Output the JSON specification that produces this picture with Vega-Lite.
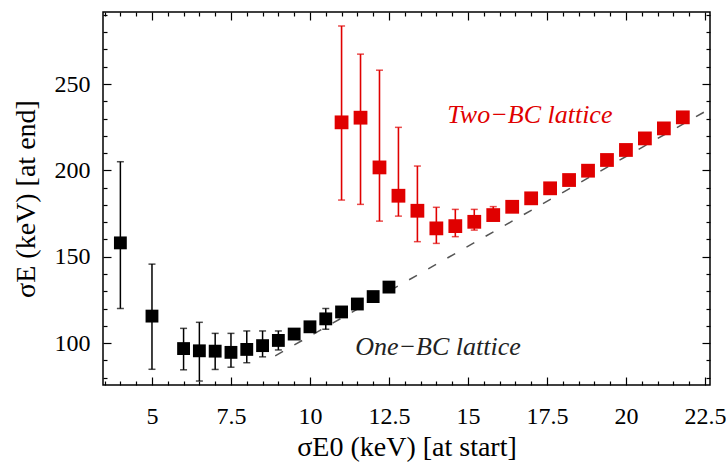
{
  "$schema": "https://vega.github.io/schema/vega-lite/v6.json",
  "width": 607,
  "height": 373,
  "autosize": {"type": "none"},
  "padding": {"left": 103, "top": 12, "right": 16, "bottom": 77},
  "background": "white",
  "config": {
    "view": {"stroke": "black", "strokeWidth": 1.5},
    "font": "Liberation Serif",
    "axis": {"grid": false, "domain": false, "labelFont": "Liberation Serif", "titleFont": "Liberation Serif", "labelColor": "black", "titleColor": "black", "tickColor": "black", "titleFontWeight": "normal", "labelFontSize": 24, "titleFontSize": 28}
  },
  "datasets": {
    "black": [
      {"x": 4, "y": 158, "lo": 120, "hi": 205},
      {"x": 5, "y": 115.6, "lo": 84.8, "hi": 145.7},
      {"x": 6, "y": 96.8, "lo": 84.5, "hi": 108.5},
      {"x": 6.5, "y": 95.5, "lo": 78, "hi": 112},
      {"x": 7, "y": 95.3, "lo": 84.7, "hi": 105.6},
      {"x": 7.5, "y": 94.6, "lo": 86, "hi": 105.6},
      {"x": 8, "y": 96.3, "lo": 88.6, "hi": 107},
      {"x": 8.5, "y": 98.5, "lo": 92, "hi": 107},
      {"x": 9, "y": 101.5, "lo": 96, "hi": 107},
      {"x": 9.5, "y": 105.2},
      {"x": 10, "y": 109.4},
      {"x": 10.5, "y": 114, "lo": 108, "hi": 120},
      {"x": 11, "y": 118},
      {"x": 11.5, "y": 122.6},
      {"x": 12, "y": 126.9},
      {"x": 12.5, "y": 132.4}
    ],
    "red": [
      {"x": 11, "y": 227.8, "lo": 182.8, "hi": 283.6},
      {"x": 11.6, "y": 230.5, "lo": 180.3, "hi": 267.3},
      {"x": 12.2, "y": 201.7, "lo": 170.6, "hi": 258},
      {"x": 12.8, "y": 185.3, "lo": 173.5, "hi": 224.9},
      {"x": 13.4, "y": 176.6, "lo": 158.7, "hi": 202.5},
      {"x": 14.0, "y": 166.4, "lo": 157.7, "hi": 178.6},
      {"x": 14.6, "y": 167.7, "lo": 161.6, "hi": 177.4},
      {"x": 15.2, "y": 170.2, "lo": 165.4, "hi": 177.4},
      {"x": 15.8, "y": 174.1, "lo": 171, "hi": 179},
      {"x": 16.4, "y": 178.9},
      {"x": 17.0, "y": 183.8},
      {"x": 17.6, "y": 189.6},
      {"x": 18.2, "y": 194.4},
      {"x": 18.8, "y": 199.8},
      {"x": 19.4, "y": 206},
      {"x": 20.0, "y": 211.8},
      {"x": 20.6, "y": 218.5},
      {"x": 21.2, "y": 224.3},
      {"x": 21.8, "y": 230.7}
    ],
    "asym": [
      {"x": 8.9, "y": 92.6},
      {"x": 23, "y": 239.2}
    ],
    "labels": [
      {"x": 16.96, "y": 232, "text": "Two−BC lattice", "series": "two"},
      {"x": 14.05, "y": 97.7, "text": "One−BC lattice", "series": "one"}
    ]
  },
  "layer": [
    {
      "data": {"name": "asym"},
      "mark": {"type": "line", "color": "#555555", "strokeWidth": 1.5, "strokeDash": [9, 13], "clip": true},
      "encoding": {
        "x": {"field": "x", "type": "quantitative", "scale": {"domain": [3.45, 22.66], "nice": false, "zero": false},
          "axis": {"orient": "bottom", "ticks": false, "labelPadding": 19, "values": [5, 7.5, 10, 12.5, 15, 17.5, 20, 22.5], "labelExpr": "'' + datum.value", "title": "σE0 (keV) [at start]", "titlePadding": 5}},
        "y": {"field": "y", "type": "quantitative", "scale": {"domain": [75.7, 291.7], "nice": false, "zero": false},
          "axis": {"orient": "left", "ticks": false, "labelPadding": 13, "values": [100, 150, 200, 250], "title": "σE (keV) [at end]", "titlePadding": 14}}
      }
    },
    {
      "data": {"name": "black"},
      "mark": {"type": "rule", "color": "black", "strokeWidth": 1.5},
      "encoding": {
        "x": {"field": "x", "type": "quantitative", "scale": {"domain": [3.45, 22.66], "nice": false, "zero": false},
          "axis": {"orient": "bottom", "labels": false, "title": null, "values": [3.5,4,4.5,5,5.5,6,6.5,7,7.5,8,8.5,9,9.5,10,10.5,11,11.5,12,12.5,13,13.5,14,14.5,15,15.5,16,16.5,17,17.5,18,18.5,19,19.5,20,20.5,21,21.5,22,22.5],
            "tickSize": {"condition": {"test": "datum.value % 2.5 === 0", "value": -8}, "value": -4}, "tickWidth": 1.2}},
        "y": {"field": "lo", "type": "quantitative", "scale": {"domain": [75.7, 291.7], "nice": false, "zero": false},
          "axis": {"orient": "left", "labels": false, "title": null, "values": [80,90,100,110,120,130,140,150,160,170,180,190,200,210,220,230,240,250,260,270,280,290],
            "tickSize": {"condition": {"test": "datum.value % 50 === 0", "value": -8}, "value": -4}, "tickWidth": 1.2}},
        "y2": {"field": "hi"}
      }
    },
    {
      "data": {"name": "black"},
      "mark": {"type": "tick", "color": "black", "size": 7, "thickness": 1.5, "orient": "horizontal"},
      "encoding": {
        "x": {"field": "x", "type": "quantitative", "scale": {"domain": [3.45, 22.66], "nice": false, "zero": false},
          "axis": {"orient": "top", "labels": false, "title": null, "values": [3.5,4,4.5,5,5.5,6,6.5,7,7.5,8,8.5,9,9.5,10,10.5,11,11.5,12,12.5,13,13.5,14,14.5,15,15.5,16,16.5,17,17.5,18,18.5,19,19.5,20,20.5,21,21.5,22,22.5],
            "tickSize": {"condition": {"test": "datum.value % 2.5 === 0", "value": -8}, "value": -4}, "tickWidth": 1.2}},
        "y": {"field": "lo", "type": "quantitative", "scale": {"domain": [75.7, 291.7], "nice": false, "zero": false},
          "axis": {"orient": "right", "labels": false, "title": null, "values": [80,90,100,110,120,130,140,150,160,170,180,190,200,210,220,230,240,250,260,270,280,290],
            "tickSize": {"condition": {"test": "datum.value % 50 === 0", "value": -8}, "value": -4}, "tickWidth": 1.2}}
      }
    },
    {
      "data": {"name": "black"},
      "mark": {"type": "tick", "color": "black", "size": 7, "thickness": 1.5, "orient": "horizontal"},
      "encoding": {
        "x": {"field": "x", "type": "quantitative", "axis": null},
        "y": {"field": "hi", "type": "quantitative", "axis": null}
      }
    },
    {
      "data": {"name": "red"},
      "mark": {"type": "rule", "color": "#e00000", "strokeWidth": 1.6},
      "encoding": {
        "x": {"field": "x", "type": "quantitative", "axis": null},
        "y": {"field": "lo", "type": "quantitative", "axis": null},
        "y2": {"field": "hi"}
      }
    },
    {
      "data": {"name": "red"},
      "mark": {"type": "tick", "color": "#e00000", "size": 7, "thickness": 1.5, "orient": "horizontal"},
      "encoding": {
        "x": {"field": "x", "type": "quantitative", "axis": null},
        "y": {"field": "lo", "type": "quantitative", "axis": null}
      }
    },
    {
      "data": {"name": "red"},
      "mark": {"type": "tick", "color": "#e00000", "size": 7, "thickness": 1.5, "orient": "horizontal"},
      "encoding": {
        "x": {"field": "x", "type": "quantitative", "axis": null},
        "y": {"field": "hi", "type": "quantitative", "axis": null}
      }
    },
    {
      "data": {"name": "black"},
      "mark": {"type": "point", "shape": "square", "filled": true, "color": "black", "opacity": 1, "size": 165},
      "encoding": {
        "x": {"field": "x", "type": "quantitative", "axis": null},
        "y": {"field": "y", "type": "quantitative", "axis": null}
      }
    },
    {
      "data": {"name": "red"},
      "mark": {"type": "point", "shape": "square", "filled": true, "color": "#e00000", "opacity": 1, "size": 190},
      "encoding": {
        "x": {"field": "x", "type": "quantitative", "axis": null},
        "y": {"field": "y", "type": "quantitative", "axis": null}
      }
    },
    {
      "data": {"name": "labels"},
      "transform": [{"filter": "datum.series === 'two'"}],
      "mark": {"type": "text", "color": "#e00000", "font": "Liberation Serif", "fontStyle": "italic", "fontSize": 26, "align": "center", "baseline": "middle"},
      "encoding": {
        "x": {"field": "x", "type": "quantitative", "axis": null},
        "y": {"field": "y", "type": "quantitative", "axis": null},
        "text": {"field": "text"}
      }
    },
    {
      "data": {"name": "labels"},
      "transform": [{"filter": "datum.series === 'one'"}],
      "mark": {"type": "text", "color": "#222222", "font": "Liberation Serif", "fontStyle": "italic", "fontSize": 26, "align": "center", "baseline": "middle"},
      "encoding": {
        "x": {"field": "x", "type": "quantitative", "axis": null},
        "y": {"field": "y", "type": "quantitative", "axis": null},
        "text": {"field": "text"}
      }
    }
  ],
  "resolve": {"axis": {"x": "independent", "y": "independent"}}
}
